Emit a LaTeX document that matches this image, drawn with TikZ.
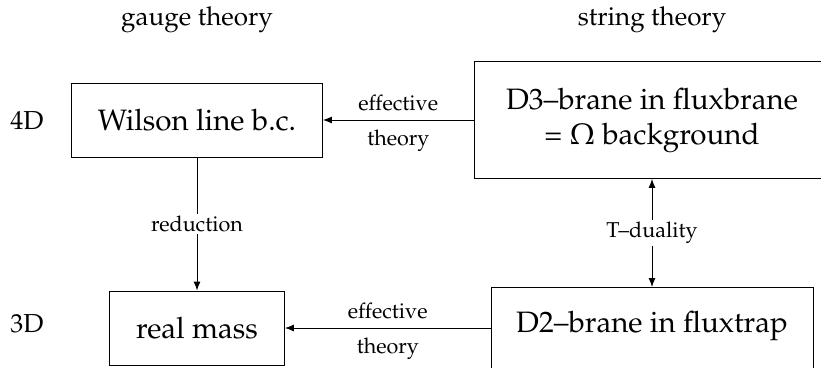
\documentclass[tikz,border=0pt]{standalone}
\usepackage[T1]{fontenc}
\usepackage{mathpazo}
\usetikzlibrary{arrows.meta}
\begin{document}
\begin{tikzpicture}[x=1pt,y=-1pt,
  box/.style={draw, line width=0.9pt, inner sep=0pt, align=center, font=\fontsize{29.5}{35}\selectfont},
  bigtext/.style={inner sep=0pt, font=\fontsize{29.5}{35}\selectfont},
  lab/.style={inner sep=2pt, font=\fontsize{21.5}{25}\selectfont},
  head/.style={inner sep=0pt, font=\fontsize{26}{30}\selectfont},
  arr/.style={line width=0.9pt, -{Latex[length=9pt,width=7pt]}},
  darr/.style={line width=0.9pt, {Latex[length=9pt,width=7pt]}-{Latex[length=9pt,width=7pt]}}]
\useasboundingbox (0,0) rectangle (821,367);
% headers
\node[head] (hg) at (197,20) {gauge theory};
\node[head] (hs) at (652,20) {string theory};
\node[head] (d4) at (27,121) {4D};
\node[head] (d3) at (27,324) {3D};
% boxes
\node[box, minimum width=251, minimum height=74] (W) at (197,120) {Wilson line b.c.};
\node[box, minimum width=175, minimum height=74] (R) at (197,328) {real mass};
\node[box, minimum width=356, minimum height=117] (D3) at (652,120) {D3--brane in fluxbrane\\= $\Omega$ background};
\node[box, minimum width=322, minimum height=110, anchor=north] (D2) at (652,287) {};
\node[bigtext] (D2t) at (652,326) {D2--brane in fluxtrap};
% connectors
\draw[arr] (D3.west |- W.east) -- node[lab, above=7pt] {effective} node[lab, below=7pt] {theory} (W.east);
\draw[arr] (W.south) -- node[lab, fill=white] {reduction} (R.north);
\draw[arr] (D2.west |- R.east) -- node[lab, above=7pt] {effective} node[lab, below=7pt] {theory} (R.east);
\draw[darr] (D3.south) -- node[lab, fill=white] {T--duality} (D2.north);
\end{tikzpicture}
\end{document}
